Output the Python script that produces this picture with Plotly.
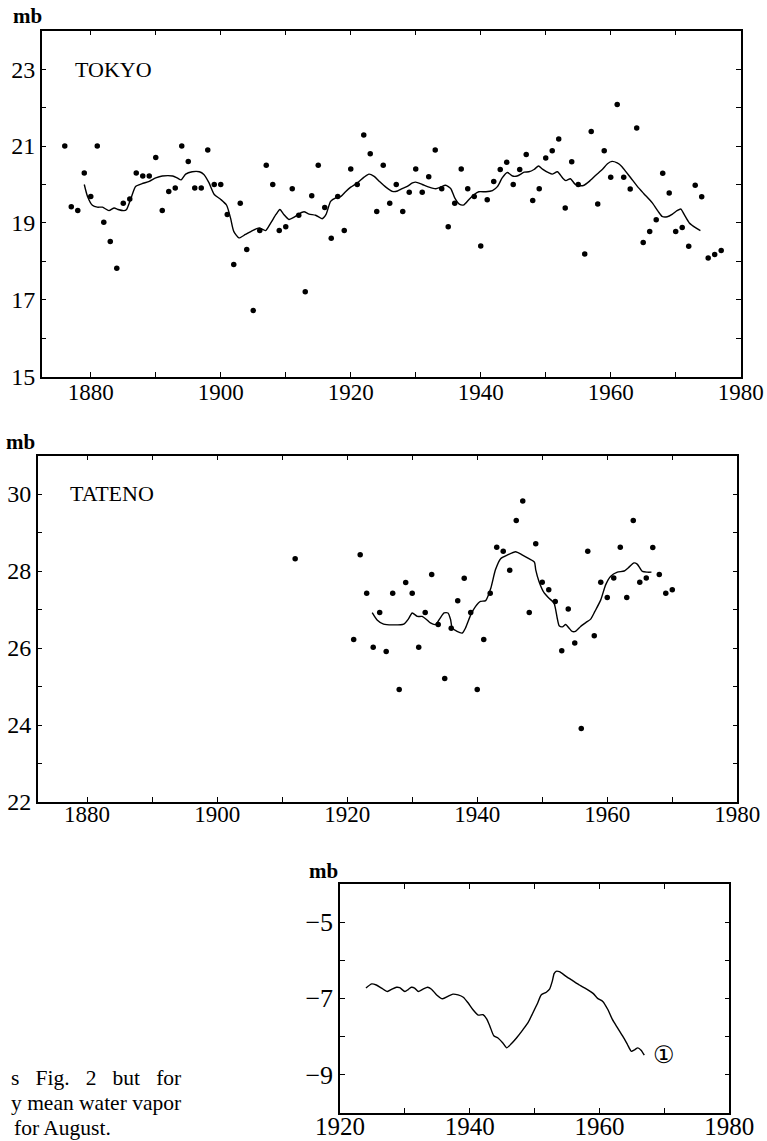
import plotly.graph_objects as go

# ---------------- data ----------------
tokyo_years = list(range(1876, 1978))
tokyo_vals = [21.0, 19.42, 19.32, 20.3, 19.69, 21.0, 19.02, 18.52, 17.82, 19.51,
              19.62, 20.3, 20.22, 20.22, 20.7, 19.32, 19.82, 19.91, 21.0, 20.6,
              19.91, 19.91, 20.9, 20.0, 20.0, 19.22, 17.92, 19.51, 18.31, 16.72,
              18.8, 20.5, 20.0, 18.8, 18.9, 19.89, 19.2, 17.21, 19.71, 20.5,
              19.4, 18.6, 19.69, 18.8, 20.4, 20.0, 21.29, 20.8, 19.3, 20.5,
              19.51, 20.0, 19.3, 19.8, 20.4, 19.8, 20.2, 20.9, 19.89, 18.9,
              19.51, 20.4, 19.89, 19.69, 18.4, 19.6, 20.08, 20.39, 20.58, 20.0,
              20.39, 20.78, 19.58, 19.89, 20.69, 20.88, 21.18, 19.39, 20.59, 20.0,
              18.19, 21.38, 19.49, 20.88, 20.19, 22.08, 20.19, 19.88, 21.47, 18.49,
              18.78, 19.08, 20.29, 19.78, 18.78, 18.88, 18.39, 19.98, 19.68, 18.09,
              18.18, 18.28]

tokyo_smooth_years = [1879.0, 1879.5, 1880.25, 1881.0, 1881.8, 1882.8, 1883.6, 1884.2, 1885.1, 1885.5,
                      1886.2, 1886.9, 1887.9, 1889.0, 1890.0, 1891.0, 1892.6, 1893.3, 1893.9, 1894.6,
                      1895.6, 1896.7, 1897.4, 1898.2, 1899.0, 1900.0, 1900.9, 1901.5, 1902.0, 1902.8,
                      1903.8, 1904.9, 1905.9, 1906.9, 1907.7, 1908.5, 1909.1, 1909.7, 1910.5, 1911.3,
                      1912.0, 1912.8, 1913.6, 1914.6, 1915.6, 1916.2, 1916.9, 1917.7, 1918.5, 1919.2,
                      1920.0, 1921.0, 1922.05, 1922.8, 1923.6, 1924.4, 1925.4, 1926.4, 1927.2, 1927.9,
                      1928.7, 1929.5, 1930.0, 1931.0, 1932.05, 1933.1, 1933.8, 1934.6, 1935.4, 1936.0,
                      1936.7, 1937.4, 1938.2, 1939.0, 1939.7, 1940.8, 1941.8, 1942.6, 1943.3, 1944.1,
                      1944.9, 1945.6, 1946.7, 1947.4, 1948.2, 1948.9, 1949.5, 1950.5, 1951.0, 1951.8,
                      1952.6, 1953.1, 1953.8, 1954.5, 1955.1, 1955.9, 1956.7, 1957.7, 1958.7, 1959.5,
                      1960.2, 1961.0, 1961.7, 1962.3, 1963.1, 1964.1, 1965.1, 1966.4, 1967.3, 1967.9,
                      1968.7, 1969.5, 1970.2, 1970.8, 1971.3, 1972.1, 1973.1, 1973.8]
tokyo_smooth_vals = [20.0, 19.69, 19.46, 19.41, 19.41, 19.32, 19.39, 19.35, 19.32, 19.35,
                     19.65, 19.95, 20.02, 20.08, 20.17, 20.22, 20.22, 20.17, 20.12, 20.27,
                     20.33, 20.33, 20.26, 20.04, 19.74, 19.61, 19.46, 19.13, 18.78, 18.61,
                     18.7, 18.8, 18.87, 18.8, 19.0, 19.22, 19.35, 19.22, 19.09, 19.15,
                     19.23, 19.29, 19.23, 19.2, 19.11, 19.22, 19.56, 19.65, 19.69, 19.81,
                     19.93, 20.04, 20.19, 20.27, 20.21, 20.08, 19.93, 19.82, 19.83, 19.89,
                     19.95, 20.04, 20.06, 20.0, 19.93, 19.89, 19.93, 19.98, 19.89, 19.65,
                     19.49, 19.47, 19.61, 19.74, 19.81, 19.81, 19.84, 19.95, 20.17, 20.31,
                     20.22, 20.22, 20.32, 20.33, 20.39, 20.48, 20.4, 20.3, 20.27, 20.33,
                     20.17, 20.1, 20.15, 20.01, 19.97, 19.98, 20.08, 20.24, 20.39, 20.54,
                     20.6, 20.56, 20.47, 20.34, 20.17, 19.95, 19.76, 19.52, 19.3, 19.17,
                     19.16, 19.23, 19.32, 19.36, 19.22, 19.0, 18.87, 18.8]

tateno_years = [1912] + list(range(1921, 1971))
tateno_vals = [28.32,
               26.22, 28.42, 27.42, 26.02, 26.92, 25.91, 27.42, 24.92, 27.7, 27.42,
               26.02, 26.92, 27.91, 26.61, 25.21, 26.51, 27.23, 27.81, 26.92, 24.92,
               26.22, 27.42, 28.62, 28.51, 28.02, 29.31, 29.82, 26.92, 28.71, 27.71,
               27.51, 27.21, 25.93, 27.01, 26.13, 23.91, 28.51, 26.32, 27.71, 27.31,
               27.82, 28.62, 27.31, 29.31, 27.71, 27.82, 28.61, 27.91, 27.42, 27.51]

tateno_smooth_years = [1923.85, 1924.6, 1925.6, 1926.9, 1928.7, 1929.4, 1930.0, 1930.8, 1931.5, 1932.2,
                       1932.8, 1933.6, 1934.2, 1934.9, 1935.5, 1935.9, 1936.15, 1936.9, 1937.7, 1938.2,
                       1939.0, 1939.75, 1940.5, 1941.3, 1942.1, 1942.8, 1943.6, 1944.6, 1945.9, 1946.9,
                       1947.95, 1948.8, 1949.0, 1949.5, 1950.3, 1951.0, 1951.8, 1952.3, 1952.6, 1953.1,
                       1953.6, 1954.1, 1954.6, 1955.1, 1955.9, 1956.7, 1957.45, 1958.1, 1959.0, 1959.75,
                       1960.5, 1961.55, 1962.6, 1963.35, 1964.1, 1964.6, 1965.4, 1966.15, 1966.8]
tateno_smooth_vals = [26.92, 26.73, 26.62, 26.6, 26.62, 26.75, 26.91, 26.82, 26.82, 26.74,
                      26.65, 26.61, 26.75, 26.91, 26.91, 26.74, 26.52, 26.43, 26.39, 26.52,
                      26.86, 27.08, 27.21, 27.23, 27.56, 28.03, 28.32, 28.41, 28.5, 28.42,
                      28.32, 28.23, 28.03, 27.73, 27.43, 27.3, 27.17, 26.78, 26.58, 26.55,
                      26.61, 26.52, 26.43, 26.43, 26.56, 26.66, 26.75, 26.95, 27.25, 27.64,
                      27.86, 27.97, 28.0, 28.1, 28.21, 28.18, 27.99, 27.97, 27.97]

diff_years = [1924.0, 1924.9, 1925.6, 1926.4, 1927.3, 1928.0, 1928.7, 1929.2, 1930.0, 1930.5,
              1931.0, 1931.5, 1932.05, 1932.8, 1933.5, 1934.1, 1934.9, 1935.8, 1936.7, 1937.4,
              1938.2, 1939.0, 1939.7, 1940.5, 1941.3, 1942.05, 1942.6, 1943.1, 1943.7, 1944.35,
              1945.1, 1945.7, 1946.4, 1947.2, 1948.2, 1949.0, 1949.7, 1950.5, 1951.0, 1951.8,
              1952.3, 1952.7, 1953.0, 1953.3, 1953.8, 1954.9, 1955.9, 1956.9, 1957.95, 1959.0,
              1959.7, 1960.5, 1961.3, 1962.0, 1962.8, 1963.6, 1964.3, 1964.9, 1965.4, 1965.9,
              1966.4, 1966.9]
diff_vals = [-6.73, -6.62, -6.65, -6.73, -6.82, -6.76, -6.71, -6.72, -6.82, -6.77,
             -6.71, -6.73, -6.82, -6.76, -6.71, -6.76, -6.91, -7.01, -6.94, -6.89,
             -6.91, -6.97, -7.11, -7.3, -7.44, -7.43, -7.54, -7.73, -7.98, -8.04,
             -8.17, -8.3, -8.19, -8.04, -7.82, -7.63, -7.39, -7.11, -6.91, -6.84,
             -6.76, -6.56, -6.35, -6.29, -6.3, -6.43, -6.54, -6.65, -6.75, -6.87,
             -7.0, -7.08, -7.3, -7.56, -7.78, -8.0, -8.21, -8.39, -8.35, -8.3,
             -8.36, -8.49]

x_ticks_long = list(range(1880, 1981, 10))
x_text_long = ["1880", "", "1900", "", "1920", "", "1940", "", "1960", "", "1980"]
x_ticks_short = list(range(1920, 1981, 10))
x_text_short = ["1920", "", "1940", "", "1960", "", "1980"]
tokyo_yticks = list(range(15, 25))
tokyo_ytext = ["15", "", "17", "", "19", "", "21", "", "23", ""]
tateno_yticks = list(range(22, 32))
tateno_ytext = ["22", "", "24", "", "26", "", "28", "", "30", ""]
diff_yticks = list(range(-10, -3))
diff_ytext = ["", "\u22129", "", "\u22127", "", "\u22125", ""]

# ---------------- figure ----------------
W, H = 767, 1141
SERIF = "Liberation Serif"


def px(x):
    return x / W


def py(y):
    return 1 - y / H


fig = go.Figure()
dot = dict(color="black", size=5.5)
ln = dict(color="black", width=1.4, shape="spline", smoothing=0.6)

fig.add_trace(go.Scatter(x=tokyo_years, y=tokyo_vals, mode="markers", marker=dot, xaxis="x", yaxis="y"))
fig.add_trace(go.Scatter(x=tokyo_smooth_years, y=tokyo_smooth_vals, mode="lines", line=ln, xaxis="x", yaxis="y"))
fig.add_trace(go.Scatter(x=tateno_years, y=tateno_vals, mode="markers", marker=dot, xaxis="x2", yaxis="y2"))
fig.add_trace(go.Scatter(x=tateno_smooth_years, y=tateno_smooth_vals, mode="lines", line=ln, xaxis="x2", yaxis="y2"))
fig.add_trace(go.Scatter(x=diff_years, y=diff_vals, mode="lines", line=ln, xaxis="x3", yaxis="y3"))

axis_common = dict(showline=True, linecolor="black", linewidth=1.5, mirror="ticks",
                   ticks="inside", ticklen=5, tickwidth=1.2, tickcolor="black",
                   showgrid=False, zeroline=False, tickmode="array", automargin=False)

fig.update_layout(
    template="none",
    width=W, height=H, margin=dict(l=0, r=0, t=0, b=0, pad=0),
    paper_bgcolor="white", plot_bgcolor="white", showlegend=False,
    font=dict(family=SERIF, color="black"),
    xaxis=dict(axis_common, domain=[px(41.7), px(740.7)], range=[1872.45, 1980],
               tickvals=x_ticks_long, ticktext=x_text_long, anchor="y",
               ticklabelstandoff=-6, tickfont=dict(size=23, family=SERIF)),
    yaxis=dict(axis_common, domain=[py(376.7), py(30.7)], range=[15, 24],
               tickvals=tokyo_yticks, ticktext=tokyo_ytext, anchor="x",
               tickfont=dict(size=24, family=SERIF)),
    xaxis2=dict(axis_common, domain=[px(37.7), px(737.3)], range=[1872.4, 1980],
                tickvals=x_ticks_long, ticktext=x_text_long, anchor="y2",
                ticklabelstandoff=-9, tickfont=dict(size=23, family=SERIF)),
    yaxis2=dict(axis_common, domain=[py(802), py(455.5)], range=[22, 31],
                tickvals=tateno_yticks, ticktext=tateno_ytext, anchor="x2",
                tickfont=dict(size=24, family=SERIF)),
    xaxis3=dict(axis_common, domain=[px(340), px(729.3)], range=[1920, 1980],
                tickvals=x_ticks_short, ticktext=x_text_short, anchor="y3",
                ticklabelstandoff=-9, tickfont=dict(size=25, family=SERIF)),
    yaxis3=dict(axis_common, domain=[py(1112.7), py(884)], range=[-10, -4],
                tickvals=diff_yticks, ticktext=diff_ytext, anchor="x3",
                tickfont=dict(size=26, family=SERIF)),
)


def label(text, x, y, size=22, xanchor="center", family=SERIF):
    fig.add_annotation(text=text, x=px(x), y=py(y), xref="paper", yref="paper",
                       xanchor=xanchor, yanchor="middle", showarrow=False,
                       font=dict(size=size, family=family, color="black"))


label("<b>mb</b>", 27, 16, size=21)
label("TOKYO", 73, 69, size=22, xanchor="left")
label("<b>mb</b>", 20, 442, size=21)
label("TATENO", 68, 493, size=22, xanchor="left")
label("<b>mb</b>", 323, 871, size=21)
label("\u2460", 664, 1055, size=24, family="DejaVu Sans")

gap = "\u00a0" * 3
label("s" + gap + "Fig." + gap + "2" + gap + "but" + gap + "for", 183, 1078, size=21.5, xanchor="right")
label("y mean water vapor", 183, 1103, size=21.5, xanchor="right")
label("for August.", 113, 1128, size=21.5, xanchor="right")

fig.write_html("out.html", config={"displayModeBar": False},
               post_script="document.body.style.margin='0';")
